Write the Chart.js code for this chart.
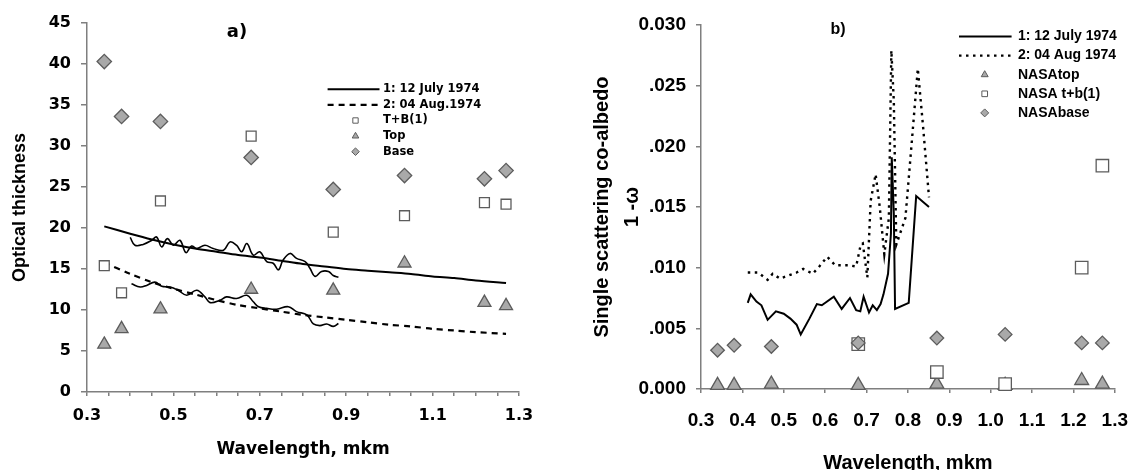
<!DOCTYPE html>
<html>
<head>
<meta charset="utf-8">
<script src="https://cdn.jsdelivr.net/npm/chart.js@4.4.1/dist/chart.umd.min.js"></script>
<style>
  body { margin: 0; background: #fff; }
  #wrap { position: relative; width: 1146px; height: 470px; overflow: hidden; }
  canvas { position: absolute; top: 0; }
  #chartA { left: 0; }
  #chartB { left: 560px; }
</style>
</head>
<body>
<div id="wrap">
  <canvas id="chartA" width="560" height="470"></canvas>
  <canvas id="chartB" width="586" height="470"></canvas>
</div>
<script>
// NASA wavelengths (mkm) used by the marker series of both panels
const waveNasa = [0.34, 0.38, 0.47, 0.68, 0.87, 1.035, 1.22, 1.27];

// a) optical thickness
const baseA = [40.3, 33.6, 33.0, 28.6, 24.7, 26.4, 26.0, 27.0];
const tbA   = [15.4, 12.1, 23.3, 31.2, 19.5, 21.5, 23.1, 22.9];
const topA  = [5.8, 7.7, 10.1, 12.5, 12.4, 15.7, 10.9, 10.5];

const calcX = [0.34, 0.40, 0.45, 0.50, 0.55, 0.60, 0.65, 0.70, 0.75, 0.80, 0.85, 0.90, 0.95, 1.00, 1.05, 1.10, 1.15, 1.20, 1.27];
const calc1 = [20.2, 19.3, 18.6, 18.0, 17.5, 17.1, 16.7, 16.4, 16.0, 15.6, 15.3, 15.0, 14.8, 14.6, 14.4, 14.1, 13.9, 13.6, 13.3];
const calc2 = [15.8, 14.4, 13.4, 12.6, 11.9, 11.2, 10.6, 10.2, 9.8, 9.4, 9.1, 8.8, 8.5, 8.2, 8.0, 7.7, 7.5, 7.3, 7.1];

const meas1X = [0.400, 0.411, 0.430, 0.450, 0.461, 0.473, 0.486, 0.500, 0.515, 0.529, 0.542, 0.554, 0.573, 0.592, 0.616, 0.631, 0.646, 0.658, 0.670, 0.685, 0.700, 0.716, 0.731, 0.743, 0.754, 0.770, 0.785, 0.805, 0.816, 0.828, 0.843, 0.859, 0.870, 0.882];
const meas1  = [18.85, 17.9, 18.0, 18.5, 18.9, 17.7, 18.7, 17.9, 18.5, 17.0, 17.8, 17.5, 17.9, 17.5, 17.3, 18.3, 17.9, 17.1, 18.1, 16.7, 17.1, 15.9, 15.7, 14.9, 16.1, 16.9, 16.3, 15.9, 15.1, 14.1, 14.7, 14.7, 14.2, 14.0];
const meas2X = [0.403, 0.423, 0.438, 0.457, 0.473, 0.492, 0.511, 0.531, 0.554, 0.573, 0.585, 0.608, 0.623, 0.646, 0.670, 0.685, 0.697, 0.716, 0.739, 0.766, 0.785, 0.809, 0.824, 0.839, 0.855, 0.870, 0.882];
const meas2  = [13.2, 12.8, 13.0, 13.4, 12.9, 12.8, 12.4, 11.8, 12.4, 11.6, 10.9, 11.2, 11.6, 11.4, 11.8, 11.0, 10.4, 10.2, 10.1, 10.4, 9.8, 9.4, 8.3, 8.1, 8.3, 8.0, 8.35];

// b) single scattering co-albedo
const baseB = [0.0032, 0.0036, 0.0035, 0.0038, 0.0042, 0.0045, 0.0038, 0.0038];
const tbB   = [null, null, null, 0.0037, 0.0014, 0.0004, 0.0100, 0.0184];
const topB  = [0.0003, 0.0003, 0.0004, 0.0003, 0.0004, 0.0003, 0.0007, 0.0004];

const b1X = [0.413, 0.420, 0.434, 0.446, 0.461, 0.481, 0.500, 0.516, 0.531, 0.541, 0.562, 0.580, 0.592, 0.621, 0.640, 0.660, 0.675, 0.685, 0.693, 0.706, 0.715, 0.725, 0.734, 0.741, 0.752, 0.759, 0.761, 0.766, 0.769, 0.802, 0.820, 0.851];
const b1  = [0.0071, 0.0078, 0.0072, 0.0069, 0.0057, 0.0064, 0.0062, 0.0058, 0.0053, 0.0045, 0.0058, 0.0070, 0.0069, 0.0076, 0.0066, 0.0075, 0.0065, 0.0064, 0.0076, 0.0063, 0.0069, 0.0065, 0.0070, 0.0078, 0.0095, 0.0128, 0.0191, 0.0144, 0.0066, 0.0071, 0.0159, 0.0150];
const b2X = [0.413, 0.438, 0.461, 0.473, 0.491, 0.531, 0.547, 0.570, 0.586, 0.605, 0.624, 0.656, 0.675, 0.686, 0.691, 0.702, 0.710, 0.722, 0.732, 0.743, 0.754, 0.760, 0.766, 0.772, 0.794, 0.809, 0.824, 0.837, 0.851];
const b2  = [0.0096, 0.0096, 0.0090, 0.0095, 0.0091, 0.0096, 0.0099, 0.0095, 0.0101, 0.0109, 0.0102, 0.0102, 0.0101, 0.0119, 0.0120, 0.0092, 0.0155, 0.0177, 0.0150, 0.0111, 0.0141, 0.0279, 0.0237, 0.0119, 0.0141, 0.0202, 0.0264, 0.0215, 0.0158];

const pts = (xs, ys) => xs.map((x, i) => ({ x: x, y: ys[i] }));

const axisGray = '#7f7f7f';
const markFill = '#a9a9a9';
const markEdge = '#5c5c5c';

// legend + panel letter drawn inside the plot area
const inlineLegend = {
  id: 'inlineLegend',
  afterDraw(chart, args, o) {
    const ctx = chart.ctx;
    ctx.save();
    ctx.textBaseline = 'middle';
    ctx.fillStyle = '#000';
    ctx.font = o.noteFont;
    ctx.textAlign = 'center';
    ctx.fillText(o.note, o.noteX, o.noteY);
    ctx.textAlign = 'left';
    ctx.font = o.font;
    let y = o.y;
    chart.data.datasets.forEach(ds => {
      if (!ds.legend) return;
      if (ds.showLine) {
        ctx.beginPath();
        ctx.setLineDash(ds.borderDash || []);
        ctx.lineWidth = ds.borderWidth;
        ctx.strokeStyle = ds.borderColor;
        ctx.moveTo(o.lineX0, y);
        ctx.lineTo(o.lineX1, y);
        ctx.stroke();
        ctx.setLineDash([]);
      } else {
        ctx.fillStyle = ds.backgroundColor;
        ctx.strokeStyle = ds.borderColor;
        ctx.lineWidth = 1;
        Chart.helpers.drawPoint(ctx, { pointStyle: ds.pointStyle, rotation: 0, radius: o.markerR, borderWidth: 1 }, o.markerX, y);
      }
      ctx.fillStyle = '#000';
      ctx.fillText(ds.legend, o.textX, y);
      y += o.rowH;
    });
    ctx.restore();
  }
};

function marks(legend, xs, ys, style, r, fill, order) {
  return {
    legend: legend, data: pts(xs, ys), showLine: false, pointStyle: style,
    pointRadius: r, pointHoverRadius: r, backgroundColor: fill, borderColor: markEdge,
    borderWidth: 1.3, order: order, clip: false
  };
}
function curve(legend, xs, ys, width, dash, tension, color) {
  return {
    legend: legend, data: pts(xs, ys), showLine: true, pointRadius: 0,
    borderColor: color || '#000', backgroundColor: color || '#000', borderWidth: width,
    borderDash: dash, tension: tension, order: 5
  };
}

const fontA = { family: 'DejaVu Sans', weight: 'bold', size: 16, lineHeight: 1 };
const fontB = { family: 'Liberation Sans', weight: 'bold', size: 19, lineHeight: 1 };

new Chart(document.getElementById('chartA'), {
  type: 'scatter',
  data: {
    datasets: [
      curve('1: 12 July 1974', calcX, calc1, 2, [], 0.3),
      curve('2: 04 Aug.1974', calcX, calc2, 2.2, [6, 5], 0.3),
      marks('T+B(1)', waveNasa, tbA, 'rect', 7, '#fff', 3),
      marks('Top', waveNasa, topA, 'triangle', 7.5, markFill, 2),
      marks('Base', waveNasa, baseA, 'rectRot', 7.2, markFill, 1),
      curve(null, meas1X, meas1, 1.6, [], 0.4),
      curve(null, meas2X, meas2, 1.6, [], 0.4)
    ]
  },
  options: {
    responsive: false,
    animation: false,
    layout: { padding: { top: 23, right: 41, left: 0, bottom: 0 } },
    scales: {
      x: {
        type: 'linear', min: 0.3, max: 1.3,
        border: { display: true, color: axisGray, width: 1.5 },
        grid: { drawOnChartArea: false, drawTicks: true, tickLength: 4, color: axisGray, lineWidth: 1.5 },
        ticks: {
          stepSize: 0.05, autoSkip: false, maxRotation: 0, padding: 12, color: '#000', font: fontA,
          callback: v => (Math.round((v - 0.3) * 100) % 20 === 0 ? v.toFixed(1) : '')
        },
        title: { display: true, text: 'Wavelength, mkm', color: '#000',
          font: { family: 'DejaVu Sans', weight: 'bold', size: 17, lineHeight: 1 }, padding: { top: 0, bottom: 11.5 } },
        afterFit: s => { s.height = 78; }
      },
      y: {
        type: 'linear', min: 0, max: 45,
        border: { display: true, color: axisGray, width: 1.5 },
        grid: { drawOnChartArea: false, drawTicks: true, tickLength: 6, color: axisGray, lineWidth: 1.5 },
        ticks: { stepSize: 5, padding: 10, color: '#000', font: fontA },
        title: { display: true, text: 'Optical thickness', color: '#000',
          font: { family: 'Liberation Sans', weight: 'bold', size: 18, lineHeight: 1 }, padding: { top: 11, bottom: 0 } },
        afterFit: s => { s.width = 87; }
      }
    },
    plugins: {
      legend: { display: false },
      tooltip: { enabled: false },
      inlineLegend: {
        font: 'bold 11.5px "DejaVu Sans"', lineX0: 327.6, lineX1: 379.5, markerX: 355.5, textX: 383,
        y: 89.3, rowH: 15.6, markerR: 3.8,
        note: 'a)', noteX: 237, noteY: 32, noteFont: 'bold 18px "DejaVu Sans"'
      }
    }
  },
  plugins: [inlineLegend]
});

new Chart(document.getElementById('chartB'), {
  type: 'scatter',
  data: {
    datasets: [
      curve('1: 12 July 1974', b1X, b1, 2, [], 0),
      curve('2: 04 Aug 1974', b2X, b2, 2.4, [2.5, 4.5], 0, '#000'),
      marks('NASAtop', waveNasa, topB, 'triangle', 8, markFill, 3),
      marks('NASA t+b(1)', waveNasa, tbB, 'rect', 8.8, '#fff', 2),
      marks('NASAbase', waveNasa, baseB, 'rectRot', 6.8, markFill, 1)
    ]
  },
  options: {
    responsive: false,
    animation: false,
    layout: { padding: { top: 25, right: 17, left: 0, bottom: 0 } },
    scales: {
      x: {
        type: 'linear', min: 0.3, max: 1.3,
        border: { display: true, color: axisGray, width: 1.5 },
        grid: { drawOnChartArea: false, drawTicks: true, tickLength: 4, color: axisGray, lineWidth: 1.5 },
        ticks: { stepSize: 0.1, autoSkip: false, maxRotation: 0, padding: 18, color: '#000', font: fontB,
          callback: v => v.toFixed(1) },
        title: { display: true, text: 'Wavelength, mkm', color: '#000',
          font: { family: 'Liberation Sans', weight: 'bold', size: 20, lineHeight: 1 }, padding: { top: 0, bottom: -3 } },
        afterFit: s => { s.height = 81; }
      },
      y: {
        type: 'linear', min: 0, max: 0.03,
        border: { display: true, color: axisGray, width: 1.5 },
        grid: { drawOnChartArea: false, drawTicks: true, tickLength: 5, color: axisGray, lineWidth: 1.5 },
        ticks: { stepSize: 0.005, padding: 10, color: '#000', font: fontB,
          callback: v => {
            const s = v.toFixed(3);
            return (v === 0 || Math.abs(v - 0.03) < 1e-9) ? s : s.slice(1);
          } },
        title: { display: true, text: ['Single scattering co-albedo', '1 -\u03c9'], color: '#000',
          font: { family: 'Liberation Sans', weight: 'bold', size: 20, lineHeight: 1.5 }, padding: { top: 27, bottom: 0 } },
        afterFit: s => { s.width = 141; }
      }
    },
    plugins: {
      legend: { display: false },
      tooltip: { enabled: false },
      inlineLegend: {
        font: 'bold 14px "Liberation Sans"', lineX0: 399, lineX1: 451.6, markerX: 424.7, textX: 458,
        y: 36.5, rowH: 19.1, markerR: 4,
        note: 'b)', noteX: 278, noteY: 30, noteFont: 'bold 16px "Liberation Sans"'
      }
    }
  },
  plugins: [inlineLegend]
});
</script>
</body>
</html>
